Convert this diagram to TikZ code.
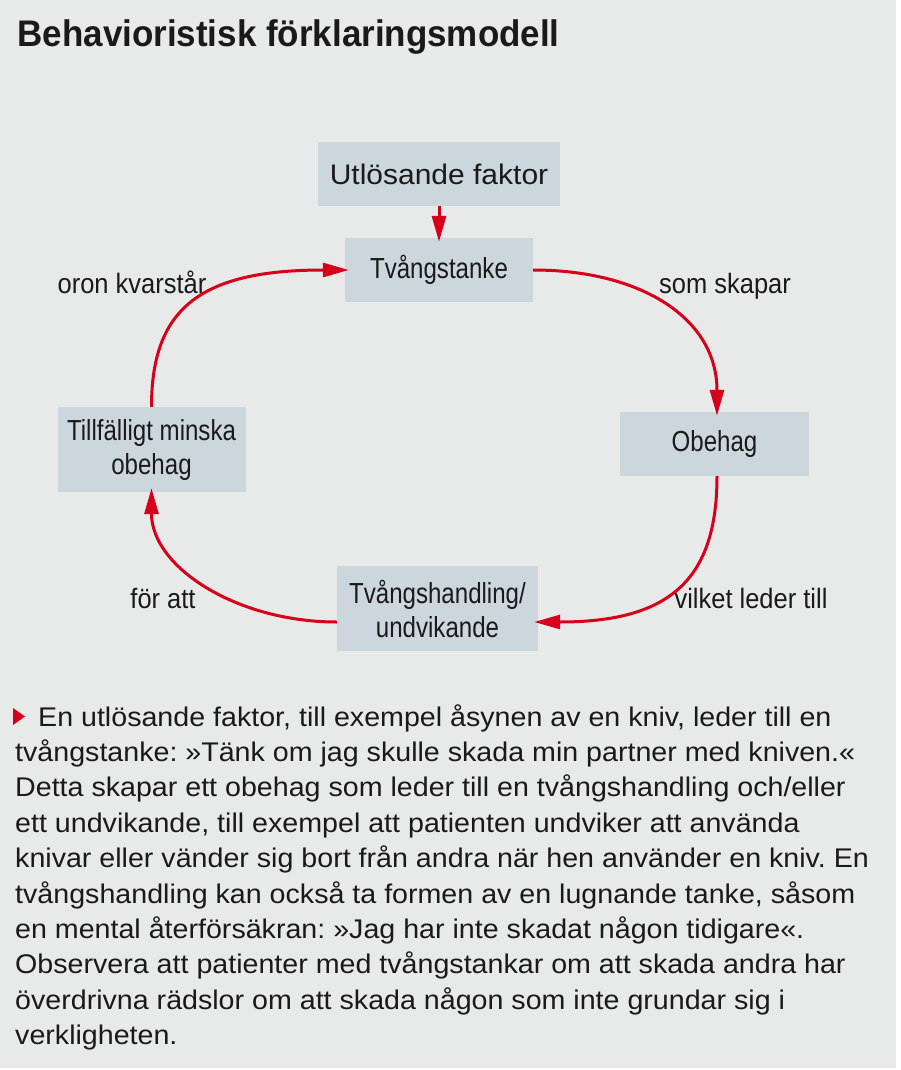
\documentclass[tikz,border=0pt]{standalone}
\usepackage{fontspec}
\usepackage{xcolor}
\usetikzlibrary{arrows.meta}
\setmainfont{Liberation Sans}
\newfontfamily\widefamily[FakeStretch=1.06]{Liberation Sans}
\newfontfamily\narrowfamily[FakeStretch=0.83]{Liberation Sans}
\newfontfamily\cuefamily[FakeStretch=0.91]{Liberation Sans}
\newfontfamily\headfamily[FakeStretch=0.945]{Liberation Sans}
\definecolor{panel}{HTML}{E8E9E9}
\definecolor{boxfill}{HTML}{CCD6DD}
\definecolor{signal}{HTML}{D7001A}
\definecolor{ink}{HTML}{1A1A1A}
\newcommand{\headfont}{\fontsize{37}{42}\selectfont}
\newcommand{\stagefont}{\fontsize{29}{34}\selectfont}
\newcommand{\cuefont}{\fontsize{28}{32}\selectfont}
\newcommand{\notefont}{\fontsize{27}{35.4}\selectfont}

\begin{document}
\begin{tikzpicture}[x=1pt,y=-1pt,
  stage/.style={fill=boxfill, inner sep=0pt, align=center, text=ink,
                font=\narrowfamily\stagefont},
  link/.style={draw=signal, line width=3pt, shorten >=-4pt,
               -{Triangle[length=26pt,width=14pt]}},
  cue/.style={anchor=base, text=ink, font=\cuefamily\cuefont}]
\useasboundingbox (0,0) rectangle (900,1070);
\fill[white] (0,0) rectangle (900,1070);
\fill[panel] (0,0) rectangle (896,1068);

\node[anchor=base west, text=ink, font=\headfamily\headfont\bfseries]
  (title) at (14,47) {Behavioristisk förklaringsmodell};

% the cycle
\node[stage, minimum width=242pt, minimum height=64pt,
      font=\widefamily\fontsize{28.3}{34}\selectfont] (trigger)
  at (439,174) {Utlösande faktor};
\node[stage, minimum width=188pt, minimum height=64pt] (thought)
  at (439,270) {Tvångstanke};
\node[stage, minimum width=189pt, minimum height=64pt] (discomfort)
  at (714.5,444) {Obehag};
\node[stage, minimum width=201pt, minimum height=85pt] (compulsion)
  at (437.5,608.5) {Tvångshandling/\\undvikande};
\node[stage, minimum width=188pt, minimum height=85pt] (relief)
  at (151.5,449.5) {Tillfälligt minska\\obehag};

\draw[link] (trigger) -- (thought);
\draw[link] (thought.east) .. controls +(107,0) and +(0,-94) .. ([xshift=2.5pt]discomfort.north);
\draw[link] ([xshift=2.5pt]discomfort.south) .. controls +(0,105) and +(130,0) .. ([yshift=-13.5pt]compulsion.east);
\draw[link] ([yshift=-13.5pt]compulsion.west) .. controls +(-100,0) and +(0,75) .. (relief.south);
\draw[link] (relief.north) .. controls +(0,-98) and +(-145,0) .. (thought.west);

\node[cue] (keeps) at (132,293) {oron kvarstår};
\node[cue] (creates) at (725,293) {som skapar};
\node[cue] (leads) at (751,608) {vilket leder till};
\node[cue] (inorder) at (163,608) {för att};

% caption
\fill[signal] (13,708) -- (25,716.5) -- (13,725) -- cycle;
\node[anchor=base west, align=left, inner sep=0pt, text=ink,
      font=\widefamily\notefont\frenchspacing] (caption) at (15,1044.6) {%
  \hspace*{23pt}En utlösande faktor, till exempel åsynen av en kniv, leder till en\\
  tvångstanke: »Tänk om jag skulle skada min partner med kniven.«\\
  Detta skapar ett obehag som leder till en tvångshandling och/eller\\
  ett undvikande, till exempel att patienten undviker att använda\\
  knivar eller vänder sig bort från andra när hen använder en kniv. En\\
  tvångshandling kan också ta formen av en lugnande tanke, såsom\\
  en mental återförsäkran: »Jag har inte skadat någon tidigare«.\\
  Observera att patienter med tvångstankar om att skada andra har\\
  överdrivna rädslor om att skada någon som inte grundar sig i\\
  verkligheten.};
\end{tikzpicture}
\end{document}
